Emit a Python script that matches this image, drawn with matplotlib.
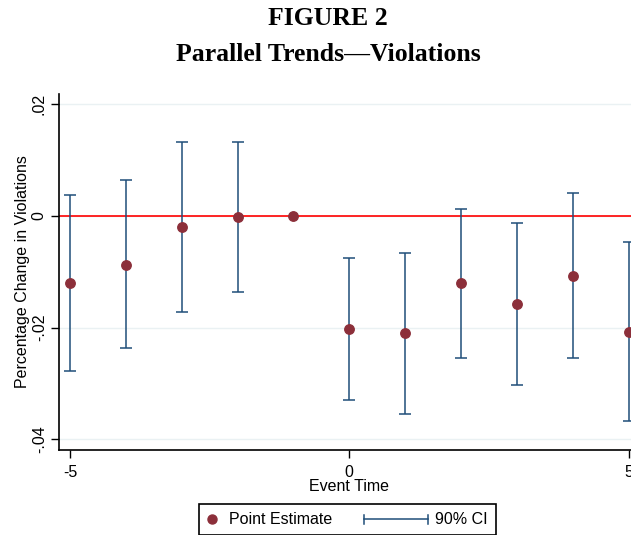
import matplotlib
matplotlib.use('Agg')
import matplotlib.pyplot as plt
from matplotlib.lines import Line2D
from matplotlib.offsetbox import (AnchoredOffsetbox, DrawingArea, HPacker,
                                  TextArea)

plt.rcParams['font.family'] = ['Liberation Sans', 'DejaVu Sans']

# event-study estimates
event_time = [-5, -4, -3, -2, -1, 0, 1, 2, 3, 4, 5]
estimate = [-0.0120, -0.0087, -0.0020, -0.0002, 0.0, -0.0203, -0.0210,
            -0.0120, -0.0157, -0.0107, -0.0208]
ci_low = [-0.0277, -0.0237, -0.0172, -0.0137, None, -0.0329, -0.0355,
          -0.0254, -0.0303, -0.0255, -0.0367]
ci_high = [0.0037, 0.0064, 0.0132, 0.0133, None, -0.0075, -0.0066,
           0.0013, -0.0012, 0.0041, -0.0047]
y_ticks = [-0.04, -0.02, 0.0, 0.02]
y_ticklabels = ['-.04', '-.02', '0', '.02']
x_ticks = [-5, 0, 5]

navy = '#1f4e79'
maroon = '#8c2f3a'

fig = plt.figure(figsize=(6.31, 5.35), dpi=100)
ax = fig.add_axes([0.094, 0.159, 0.919, 0.665])

# y grid
for v in y_ticks:
    ax.axhline(v, color='#eaf1f3', lw=1.0, zorder=0)
ax.axhline(0, color='#ff0000', lw=1.2, zorder=1)

for x, lo, hi in zip(event_time, ci_low, ci_high):
    if lo is None:
        continue
    ax.errorbar([x], [(lo + hi) / 2], yerr=[[(hi - lo) / 2], [(hi - lo) / 2]],
                fmt='none', ecolor=navy, elinewidth=1.1, capsize=4.5,
                capthick=1.1, zorder=2)
ax.plot(event_time, estimate, 'o', color=maroon, ms=6.8, zorder=3)

ax.set_xlim(-5.19, 5.19)
ax.set_ylim(-0.0419, 0.0218)
ax.set_xticks(x_ticks)
ax.set_xticklabels([str(t) for t in x_ticks])
ax.set_yticks(y_ticks)
ax.set_yticklabels(y_ticklabels, rotation=90, va='center')
ax.tick_params(axis='both', labelsize=11.5, length=6, width=1, color='black')
ax.tick_params(axis='y', pad=3)
ax.tick_params(axis='x', pad=5)
ax.spines['top'].set_visible(False)
ax.spines['right'].set_visible(False)
ax.spines['left'].set_linewidth(1.2)
ax.spines['bottom'].set_linewidth(1.2)
ax.set_xlabel('Event Time', fontsize=11.5, labelpad=-1)
ax.set_ylabel('Percentage Change in Violations', fontsize=11.5, labelpad=1)

# titles
fig.text(0.52, 0.965, 'FIGURE 2', ha='center', va='center',
         family='Liberation Serif', weight='bold', fontsize=18.5)
fig.text(0.52, 0.898, 'Parallel Trends\u2014Violations', ha='center',
         va='center', family='Liberation Serif', weight='bold', fontsize=18.5)

# legend built by hand (Stata style)
da1 = DrawingArea(7, 10, 0, 0)
da1.add_artist(Line2D([3.5], [5], marker='o', color=maroon, ms=6.5, ls='none'))
ta1 = TextArea('Point Estimate', textprops=dict(fontsize=11.5))
da2 = DrawingArea(47, 10, 0, 0)
da2.add_artist(Line2D([0.5, 46.5], [5, 5], color=navy, lw=1.1))
da2.add_artist(Line2D([0.5, 0.5], [2, 8], color=navy, lw=1.1))
da2.add_artist(Line2D([46.5, 46.5], [2, 8], color=navy, lw=1.1))
ta2 = TextArea('90% CI', textprops=dict(fontsize=11.5))
item1 = HPacker(children=[da1, ta1], align='center', pad=0, sep=9)
item2 = HPacker(children=[da2, ta2], align='center', pad=0, sep=5)
row = HPacker(children=[item1, item2], align='center', pad=0, sep=22)
anch = AnchoredOffsetbox(loc='center', child=row, pad=0.6, borderpad=0,
                         frameon=True, bbox_to_anchor=(0.551, 0.0290),
                         bbox_transform=fig.transFigure)
anch.patch.set_edgecolor('black')
anch.patch.set_linewidth(1.2)
anch.patch.set_boxstyle('square', pad=0)
fig.add_artist(anch)

fig.savefig('out.png', dpi=100)
